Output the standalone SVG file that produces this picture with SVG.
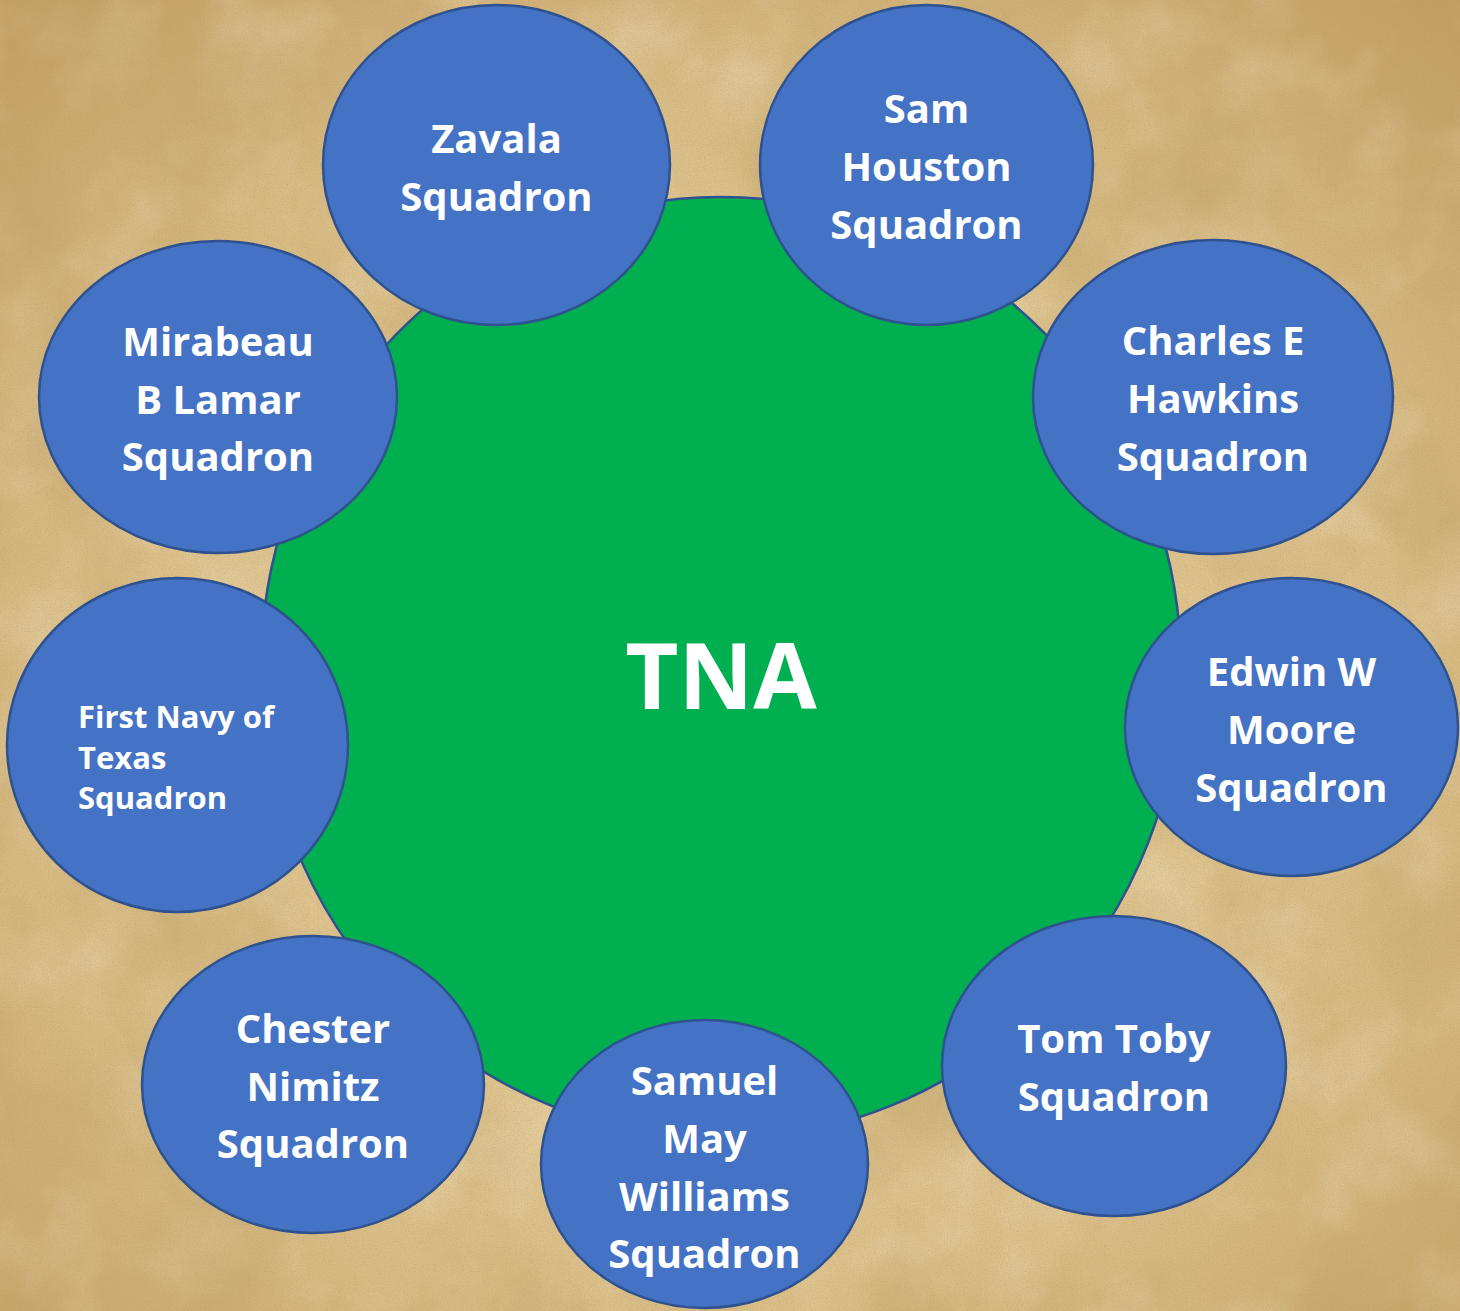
<svg xmlns="http://www.w3.org/2000/svg" width="1460" height="1311" viewBox="0 0 1460 1311">
  <defs>
    <radialGradient id="bgGrad" cx="50%" cy="55%" r="75%">
      <stop offset="0" stop-color="#E4CB98"/>
      <stop offset="0.6" stop-color="#DBBF89"/>
      <stop offset="1" stop-color="#C29C60"/>
    </radialGradient>
    <filter id="blotch" x="0" y="0" width="1460" height="1311" filterUnits="userSpaceOnUse">
      <feTurbulence type="fractalNoise" baseFrequency="0.007" numOctaves="5" seed="7"/>
      <feColorMatrix type="matrix" values="0 0 0 0 0.55  0 0 0 0 0.38  0 0 0 0 0.15  0 0 0 2.4 -1.05"/>
    </filter>
    <filter id="light" x="0" y="0" width="1460" height="1311" filterUnits="userSpaceOnUse">
      <feTurbulence type="fractalNoise" baseFrequency="0.01" numOctaves="4" seed="19"/>
      <feColorMatrix type="matrix" values="0 0 0 0 0.92  0 0 0 0 0.84  0 0 0 0 0.64  0 0 0 2.2 -1.0"/>
    </filter>
    <filter id="grain" x="0" y="0" width="1460" height="1311" filterUnits="userSpaceOnUse">
      <feTurbulence type="fractalNoise" baseFrequency="0.7" numOctaves="2" seed="2"/>
      <feColorMatrix type="matrix" values="0 0 0 0 0.42  0 0 0 0 0.30  0 0 0 0 0.12  0 0 0 1.8 -0.75"/>
    </filter>
    <style>
      .hub { fill: #00B050; stroke: #2F528F; stroke-width: 2.5; }
      .node { fill: #4472C4; stroke: #2F528F; stroke-width: 2.5; }
      .lbl { font-family: "Open Sans", "Noto Sans", "Liberation Sans", sans-serif; font-weight: 700; fill: #FFFFFF; font-size: 40px; text-anchor: middle; }
      .small { font-size: 31px; text-anchor: start; }
      .big { font-size: 92px; }
    </style>
  </defs>

  <g id="background">
    <rect x="0" y="0" width="1460" height="1311" fill="url(#bgGrad)"/>
    <rect x="0" y="0" width="1460" height="1311" filter="url(#light)" opacity="0.3"/>
    <rect x="0" y="0" width="1460" height="1311" filter="url(#blotch)" opacity="0.6"/>
    <rect x="0" y="0" width="1460" height="1311" filter="url(#grain)" opacity="0.35"/>
  </g>

  <g id="tna">
    <ellipse class="hub" cx="721" cy="668" rx="460" ry="471"/>
    <text class="lbl big" x="721" y="709">TNA</text>
  </g>

  <g id="zavala">
    <ellipse class="node" cx="496.5" cy="165" rx="173.5" ry="160"/>
    <text class="lbl" x="496.5" y="153">Zavala</text>
    <text class="lbl" x="496.5" y="211">Squadron</text>
  </g>

  <g id="sam-houston">
    <ellipse class="node" cx="926.5" cy="165" rx="166.5" ry="160"/>
    <text class="lbl" x="926.5" y="123">Sam</text>
    <text class="lbl" x="926.5" y="181">Houston</text>
    <text class="lbl" x="926.5" y="239">Squadron</text>
  </g>

  <g id="charles-e-hawkins">
    <ellipse class="node" cx="1213" cy="397" rx="180" ry="157"/>
    <text class="lbl" x="1213" y="355">Charles E</text>
    <text class="lbl" x="1213" y="413">Hawkins</text>
    <text class="lbl" x="1213" y="471">Squadron</text>
  </g>

  <g id="edwin-w-moore">
    <ellipse class="node" cx="1291.5" cy="727" rx="166.5" ry="149"/>
    <text class="lbl" x="1291.5" y="686">Edwin W</text>
    <text class="lbl" x="1291.5" y="744">Moore</text>
    <text class="lbl" x="1291.5" y="802">Squadron</text>
  </g>

  <g id="tom-toby">
    <ellipse class="node" cx="1114" cy="1066" rx="172" ry="150"/>
    <text class="lbl" x="1114" y="1053">Tom Toby</text>
    <text class="lbl" x="1114" y="1111">Squadron</text>
  </g>

  <g id="samuel-may-williams">
    <ellipse class="node" cx="704.5" cy="1164" rx="163.5" ry="144"/>
    <text class="lbl" x="704.5" y="1095">Samuel</text>
    <text class="lbl" x="704.5" y="1153">May</text>
    <text class="lbl" x="704.5" y="1211">Williams</text>
    <text class="lbl" x="704.5" y="1268">Squadron</text>
  </g>

  <g id="chester-nimitz">
    <ellipse class="node" cx="313" cy="1084.5" rx="171" ry="148.5"/>
    <text class="lbl" x="313" y="1043">Chester</text>
    <text class="lbl" x="313" y="1101">Nimitz</text>
    <text class="lbl" x="313" y="1158">Squadron</text>
  </g>

  <g id="first-navy-of-texas">
    <ellipse class="node" cx="177.5" cy="745" rx="170.5" ry="167"/>
    <text class="lbl small" x="78" y="728">First Navy of</text>
    <text class="lbl small" x="78" y="769">Texas</text>
    <text class="lbl small" x="78" y="809">Squadron</text>
  </g>

  <g id="mirabeau-b-lamar">
    <ellipse class="node" cx="218" cy="397" rx="179" ry="156"/>
    <text class="lbl" x="218" y="356">Mirabeau</text>
    <text class="lbl" x="218" y="414">B Lamar</text>
    <text class="lbl" x="218" y="471">Squadron</text>
  </g>
</svg>
